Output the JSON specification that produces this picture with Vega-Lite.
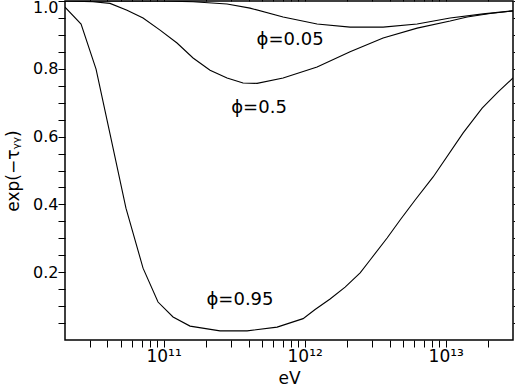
{
  "$schema": "https://vega.github.io/schema/vega-lite/v6.json",
  "width": 448,
  "height": 339,
  "autosize": {"type": "none"},
  "padding": {"left": 65, "top": 1, "right": 2, "bottom": 50},
  "config": {
    "view": {"stroke": "black", "strokeWidth": 1.5},
    "axis": {
      "grid": false,
      "domain": false,
      "labelFont": "DejaVu Sans",
      "labelFontSize": 16,
      "labelColor": "black",
      "titleFont": "DejaVu Sans",
      "titleFontSize": 17,
      "titleFontWeight": "normal",
      "titleColor": "black",
      "tickColor": "black",
      "tickWidth": 1,
      "labelOverlap": false,
      "labelFlush": false
    }
  },
  "layer": [
    {
      "data": {
        "values": [
          {"phi": "0.95", "E": 2.0e10, "T": 0.982},
          {"phi": "0.95", "E": 2.60e10, "T": 0.932},
          {"phi": "0.95", "E": 3.32e10, "T": 0.799},
          {"phi": "0.95", "E": 4.17e10, "T": 0.608},
          {"phi": "0.95", "E": 5.41e10, "T": 0.389},
          {"phi": "0.95", "E": 7.15e10, "T": 0.212},
          {"phi": "0.95", "E": 9.13e10, "T": 0.112},
          {"phi": "0.95", "E": 1.167e11, "T": 0.068},
          {"phi": "0.95", "E": 1.54e11, "T": 0.041},
          {"phi": "0.95", "E": 2.51e11, "T": 0.027},
          {"phi": "0.95", "E": 3.91e11, "T": 0.027},
          {"phi": "0.95", "E": 6.38e11, "T": 0.038},
          {"phi": "0.95", "E": 9.75e11, "T": 0.063},
          {"phi": "0.95", "E": 1.186e12, "T": 0.09},
          {"phi": "0.95", "E": 1.515e12, "T": 0.121},
          {"phi": "0.95", "E": 1.936e12, "T": 0.156},
          {"phi": "0.95", "E": 2.474e12, "T": 0.198},
          {"phi": "0.95", "E": 2.912e12, "T": 0.236},
          {"phi": "0.95", "E": 3.843e12, "T": 0.301},
          {"phi": "0.95", "E": 4.752e12, "T": 0.354},
          {"phi": "0.95", "E": 6.072e12, "T": 0.413},
          {"phi": "0.95", "E": 8.145e12, "T": 0.481},
          {"phi": "0.95", "E": 1.33e13, "T": 0.611},
          {"phi": "0.95", "E": 1.813e13, "T": 0.684},
          {"phi": "0.95", "E": 2.354e13, "T": 0.732},
          {"phi": "0.95", "E": 3.0e13, "T": 0.773},
          {"phi": "0.5", "E": 2.0e10, "T": 1.0},
          {"phi": "0.5", "E": 3.16e10, "T": 0.998},
          {"phi": "0.5", "E": 4.17e10, "T": 0.993},
          {"phi": "0.5", "E": 5.505e10, "T": 0.973},
          {"phi": "0.5", "E": 7.15e10, "T": 0.950},
          {"phi": "0.5", "E": 9.44e10, "T": 0.914},
          {"phi": "0.5", "E": 1.245e11, "T": 0.876},
          {"phi": "0.5", "E": 1.618e11, "T": 0.832},
          {"phi": "0.5", "E": 2.135e11, "T": 0.796},
          {"phi": "0.5", "E": 2.818e11, "T": 0.773},
          {"phi": "0.5", "E": 3.66e11, "T": 0.758},
          {"phi": "0.5", "E": 4.6e11, "T": 0.757},
          {"phi": "0.5", "E": 7.035e11, "T": 0.773},
          {"phi": "0.5", "E": 1.225e12, "T": 0.805},
          {"phi": "0.5", "E": 2.10e12, "T": 0.850},
          {"phi": "0.5", "E": 3.60e12, "T": 0.891},
          {"phi": "0.5", "E": 6.274e12, "T": 0.920},
          {"phi": "0.5", "E": 1.075e13, "T": 0.941},
          {"phi": "0.5", "E": 1.419e13, "T": 0.953},
          {"phi": "0.5", "E": 2.066e13, "T": 0.963},
          {"phi": "0.5", "E": 3.0e13, "T": 0.971},
          {"phi": "0.05", "E": 2.0e10, "T": 1.0},
          {"phi": "0.05", "E": 9.44e10, "T": 1.0},
          {"phi": "0.05", "E": 1.618e11, "T": 0.998},
          {"phi": "0.05", "E": 2.818e11, "T": 0.991},
          {"phi": "0.05", "E": 4.10e11, "T": 0.979},
          {"phi": "0.05", "E": 7.035e11, "T": 0.953},
          {"phi": "0.05", "E": 1.225e12, "T": 0.932},
          {"phi": "0.05", "E": 2.10e12, "T": 0.923},
          {"phi": "0.05", "E": 3.60e12, "T": 0.923},
          {"phi": "0.05", "E": 6.274e12, "T": 0.932},
          {"phi": "0.05", "E": 1.075e13, "T": 0.950},
          {"phi": "0.05", "E": 1.843e13, "T": 0.962},
          {"phi": "0.05", "E": 3.0e13, "T": 0.971}
        ]
      },
      "mark": {"type": "line", "color": "black", "strokeWidth": 1.1, "clip": true},
      "encoding": {
        "x": {
          "field": "E",
          "type": "quantitative",
          "scale": {"type": "log", "domain": [2e10, 3e13], "nice": false},
          "axis": {
            "orient": "bottom",
            "values": [3e10, 4e10, 5e10, 6e10, 7e10, 8e10, 9e10, 1e11, 2e11, 3e11, 4e11, 5e11, 6e11, 7e11, 8e11, 9e11, 1e12, 2e12, 3e12, 4e12, 5e12, 6e12, 7e12, 8e12, 9e12, 1e13, 2e13],
            "labelExpr": "datum.value == 1e11 ? '10¹¹' : datum.value == 1e12 ? '10¹²' : datum.value == 1e13 ? '10¹³' : ''",
            "labelFontSize": 17,
            "tickSize": 7,
            "labelPadding": 1,
            "title": "eV",
            "titlePadding": 6,
            "encode": {"ticks": {"update": {"y2": {"signal": "abs(log(datum.value)/LN10 - round(log(datum.value)/LN10)) < 0.001 ? -7 : -3.5"}}}}
          }
        },
        "y": {
          "field": "T",
          "type": "quantitative",
          "scale": {"domain": [0, 1], "nice": false, "zero": false},
          "axis": {
            "orient": "left",
            "values": [0.05, 0.1, 0.15, 0.2, 0.25, 0.3, 0.35, 0.4, 0.45, 0.5, 0.55, 0.6, 0.65, 0.7, 0.75, 0.8, 0.85, 0.9, 0.95, 1.0],
            "labelExpr": "abs(datum.value*5 - round(datum.value*5)) < 0.001 ? format(datum.value, '.1f') : ''",
            "tickSize": 7,
            "labelPadding": 0,
            "labelFlush": true,
            "labelFlushOffset": 2,
            "title": "exp(−τᵧᵧ)",
            "titlePadding": 10,
            "encode": {"ticks": {"update": {"x2": {"signal": "abs(datum.value*5 - round(datum.value*5)) < 0.001 ? 9 : 4.5"}}}}
          }
        },
        "detail": {"field": "phi"}
      }
    },
    {
      "data": {
        "values": [
          {"label": "ϕ=0.05", "E": 7.89e11, "T": 0.885},
          {"label": "ϕ=0.5", "E": 4.75e11, "T": 0.684},
          {"label": "ϕ=0.95", "E": 3.48e11, "T": 0.118}
        ]
      },
      "mark": {"type": "text", "font": "DejaVu Sans", "fontSize": 18, "align": "center", "baseline": "middle", "color": "black"},
      "encoding": {
        "x": {
          "field": "E",
          "type": "quantitative",
          "scale": {"type": "log", "domain": [2e10, 3e13], "nice": false},
          "axis": {
            "orient": "top",
            "values": [3e10, 4e10, 5e10, 6e10, 7e10, 8e10, 9e10, 1e11, 2e11, 3e11, 4e11, 5e11, 6e11, 7e11, 8e11, 9e11, 1e12, 2e12, 3e12, 4e12, 5e12, 6e12, 7e12, 8e12, 9e12, 1e13, 2e13],
            "labels": false,
            "title": null,
            "tickSize": 7,
            "encode": {"ticks": {"update": {"y2": {"signal": "abs(log(datum.value)/LN10 - round(log(datum.value)/LN10)) < 0.001 ? 7 : 3.5"}}}}
          }
        },
        "y": {
          "field": "T",
          "type": "quantitative",
          "scale": {"domain": [0, 1], "nice": false, "zero": false},
          "axis": {
            "orient": "right",
            "values": [0.05, 0.1, 0.15, 0.2, 0.25, 0.3, 0.35, 0.4, 0.45, 0.5, 0.55, 0.6, 0.65, 0.7, 0.75, 0.8, 0.85, 0.9, 0.95, 1.0],
            "labels": false,
            "title": null,
            "tickSize": 7,
            "encode": {"ticks": {"update": {"x2": {"signal": "abs(datum.value*5 - round(datum.value*5)) < 0.001 ? -9 : -4.5"}}}}
          }
        },
        "text": {"field": "label"}
      }
    }
  ],
  "resolve": {"axis": {"x": "independent", "y": "independent"}}
}
